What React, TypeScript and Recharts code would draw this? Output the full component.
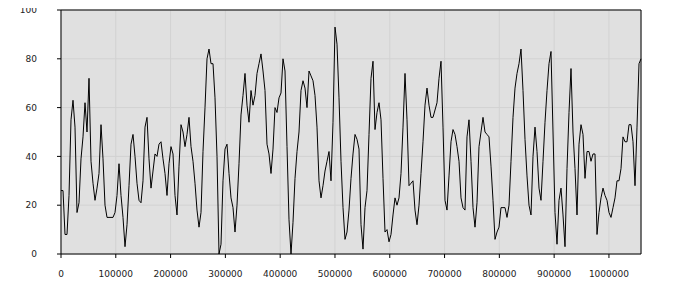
import React from 'react';
import { LineChart, Line, XAxis, YAxis, CartesianGrid, ReferenceLine } from 'recharts';

// one reading every SAMPLE_STEP units along the x axis
const SAMPLE_STEP = 3650;

const VALUES: number[] = [
  26, 26, 8, 8, 24, 55, 63, 52, 17, 21, 39, 48, 62, 50, 72, 38, 29, 22, 27, 33,
  53, 39, 20, 15, 15, 15, 15, 17, 24, 37, 24, 15, 3, 12, 28, 45, 49, 40, 29, 22,
  21, 30, 52, 56, 39, 27, 34, 41, 40, 45,
  46, 39, 33, 24, 37, 44, 41, 24, 16, 36, 53, 50, 44, 49, 56, 44, 38, 29, 18, 11,
  17, 42, 60, 80, 84, 78, 78, 64, 40, 0, 4, 30, 43, 45, 33, 23, 19, 9, 20, 37,
  57, 65, 74, 61, 54, 67, 61, 65, 74, 78,
  82, 75, 67, 45, 41, 33, 43, 60, 58, 64, 66, 80, 75, 44, 14, 0, 13, 31, 42, 50,
  67, 71, 68, 60, 75, 73, 71, 65, 52, 30, 23, 28, 34, 38, 42, 30, 54, 93, 86, 64,
  38, 19, 6, 9, 18, 31, 41, 49, 47, 43,
  12, 2, 19, 26, 49, 72, 79, 51, 58, 62, 55, 31, 9, 10, 5, 8, 16, 23, 20, 23,
  33, 52, 74, 55, 28, 29, 30, 18, 12, 20, 33, 46, 61, 68, 61, 56, 56, 59, 62, 72,
  79, 52, 22, 18, 32, 46, 51, 49, 44, 38,
  23, 19, 18, 48, 55, 38, 19, 11, 21, 44, 50, 56, 50, 49, 48, 36, 22, 6, 9, 11,
  19, 19, 19, 15, 20, 38, 56, 68, 74, 78, 84, 67, 47, 32, 20, 16, 40, 52, 42, 27,
  22, 38, 54, 67, 78, 83, 50, 17, 4, 22,
  27, 16, 3, 35, 58, 76, 50, 35, 16, 45, 53, 49, 31, 42, 42, 38, 41, 41, 8, 17,
  23, 27, 24, 22, 17, 15, 19, 23, 30, 30, 35, 48, 46, 46, 53, 53, 46, 28, 52, 78,
  80,
];

const X_TICKS = [0, 100000, 200000, 300000, 400000, 500000, 600000, 700000, 800000, 900000, 1000000];
const Y_TICKS = [0, 20, 40, 60, 80, 100];

const data = VALUES.map((v, i) => ({ x: i * SAMPLE_STEP, v }));

const tickStyle = { fontSize: 9, fill: '#222', fontFamily: '"DejaVu Sans", Verdana, sans-serif' };

const App: React.FC = () => {
  return (
    // pulled up over the body margin so the top "100" labels have room
    <div style={{ width: 692, height: 284, marginTop: -8 }}>
      <LineChart width={692} height={292} data={data} margin={{ top: 10, right: 0, left: 0, bottom: 0 }}>
        <CartesianGrid yAxisId="left" stroke="#d2d2d2" fill="#e0e0e0" fillOpacity={1} />
        <XAxis
          dataKey="x"
          type="number"
          domain={[0, 'dataMax']}
          ticks={X_TICKS}
          interval={0}
          height={38}
          tickSize={4}
          tickMargin={13}
          stroke="#000"
          tick={tickStyle}
        />
        <YAxis
          yAxisId="left"
          domain={[0, 100]}
          ticks={Y_TICKS}
          interval={0}
          width={53}
          tickSize={4}
          tickMargin={20}
          stroke="#000"
          tick={tickStyle}
        />
        <YAxis
          yAxisId="right"
          orientation="right"
          domain={[0, 100]}
          ticks={Y_TICKS}
          interval={0}
          width={59}
          tickSize={4}
          tickMargin={17}
          stroke="#000"
          tick={tickStyle}
        />
        {/* top edge of the frame */}
        <ReferenceLine yAxisId="left" y={100} stroke="#000" />
        <Line
          yAxisId="left"
          type="linear"
          dataKey="v"
          stroke="#000"
          strokeWidth={1}
          dot={false}
          isAnimationActive={false}
        />
      </LineChart>
    </div>
  );
};

export default App;
